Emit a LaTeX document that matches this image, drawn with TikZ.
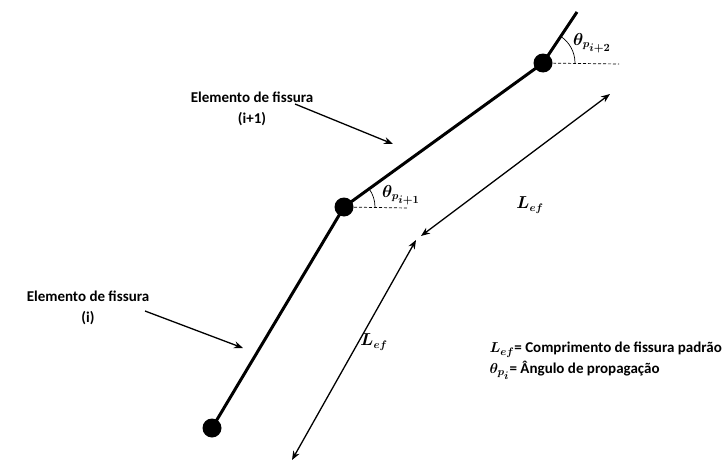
\documentclass[tikz,border=0pt]{standalone}
\usepackage{amsmath,bm}
\usepackage{fontspec}
\setmainfont{Carlito}
\usetikzlibrary{arrows.meta,calc}
\begin{document}
\begin{tikzpicture}[x=1pt,y=-1pt,
  crack/.style={line width=3pt},
  joint/.style={circle,fill=black,inner sep=0pt,minimum size=19pt},
  dim/.style={line width=1.3pt,{Stealth[length=9pt,width=7pt]}-{Stealth[length=9pt,width=7pt]}},
  pointer/.style={line width=1.3pt,-{Stealth[length=9pt,width=7pt]}},
  refline/.style={densely dashed,line width=0.7pt},
  anglearc/.style={line width=0.7pt},
  lbl/.style={font=\fontsize{15}{21}\selectfont\bfseries,align=center,inner sep=0pt},
  mlbl/.style={font=\fontsize{16}{19}\selectfont,inner sep=0pt}]
\useasboundingbox (0,0) rectangle (726,463);
% nodes of the crack
\node[joint] (p0) at (212,428) {};
\node[joint] (p1) at (344,207) {};
\node[joint] (p2) at (543,63) {};
\coordinate (tip) at (577,12);
\draw[crack] (p0.center) -- (p1.center) -- (p2.center) -- (tip);
% reference lines
\coordinate (h1) at (408,208);
\coordinate (h2) at (619,64);
\draw[refline] (p1.center) -- (h1);
\draw[refline] (p2.center) -- (h2);
% angle arcs
\draw[anglearc] ($(p1.center)+(31,0)$) arc[start angle=0,end angle=-36,radius=31];
\draw[anglearc] ($(p2.center)+(32,0)$) arc[start angle=0,end angle=-57,radius=32];
\node[mlbl,anchor=west] (t1) at (382,195) {$\bm{\theta}_{\bm{p}_{\scriptstyle\bm{i+1}}}$};
\node[mlbl,anchor=west] (t2) at (573,43) {$\bm{\theta}_{\bm{p}_{\scriptstyle\bm{i+2}}}$};
% dimension arrows
\coordinate (d1a) at (610,94);
\coordinate (d1b) at (421,236);
\coordinate (d2a) at (416,240);
\coordinate (d2b) at (292,460);
\draw[dim] (d1b) -- (d1a);
\draw[dim] (d2b) -- (d2a);
\node[mlbl] (l1) at (530,205) {$\bm{L_{ef}}$};
\node[mlbl] (l2) at (374,342) {$\bm{L_{ef}}$};
% element labels
\node[lbl] (e2) at (252,109) {Elemento de fissura\\(i+1)};
\coordinate (e2a) at (295,104);
\coordinate (e2b) at (393,144);
\draw[pointer] (e2a) -- (e2b);
\node[lbl] (e1) at (88,308) {Elemento de fissura\\(i)};
\coordinate (e1a) at (145,311);
\coordinate (e1b) at (243,348);
\draw[pointer] (e1a) -- (e1b);
% legend
\node[lbl,anchor=east,align=left] (leg) at (722,361) {$\bm{L_{ef}}$= Comprimento de fissura padrão\\$\bm{\theta}_{\bm{p}_{\scriptstyle\bm{i}}}$= Ângulo de propagação};
\end{tikzpicture}
\end{document}
